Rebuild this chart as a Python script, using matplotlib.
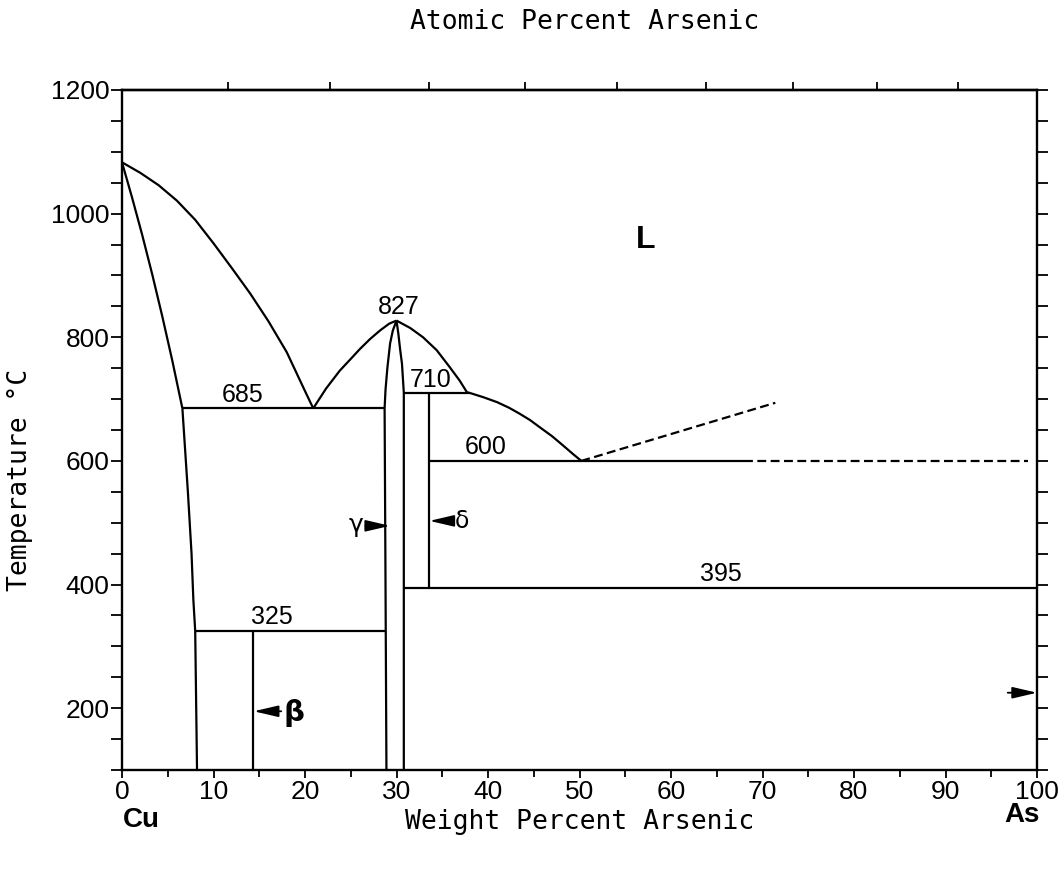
import numpy as np
import matplotlib
matplotlib.use("Agg")
import matplotlib.pyplot as plt
from matplotlib.ticker import MultipleLocator, FixedLocator, NullFormatter

# liquidus / solidus curves (wt% As, temperature C)
liq_cu_wt = [0, 2, 4, 6, 8, 10, 12, 14, 16, 18, 20, 20.9]
liq_cu_t = [1083, 1066, 1046, 1021, 990, 952, 912, 871, 826, 776, 713, 685]
sol_cu_wt = [0, 1.1, 2.2, 3.3, 4.4, 5.5, 6.6]
sol_cu_t = [1083, 1026, 966, 902, 834, 762, 685]
solvus_wt = [6.6, 7.2, 7.6, 7.8, 8.0, 8.2]
solvus_t = [685, 550, 450, 375, 325, 100]
liq_gl_wt = [20.9, 22.3, 23.8, 25.0, 26.0, 27.1, 28.2, 29.2, 30.0]
liq_gl_t = [685, 717, 746, 765, 781, 797, 811, 822, 827]
liq_gr_wt = [30.0, 31.5, 32.9, 34.4, 35.8, 36.9, 37.7, 38.0]
liq_gr_t = [827, 815, 800, 779, 752, 730, 711, 710]
liq_as_wt = [38.0, 39.5, 41.0, 42.3, 43.5, 44.6, 45.7, 47.0, 48.2, 49.3, 50.2]
liq_as_t = [710, 703, 695, 686, 676, 666, 654, 640, 625, 611, 600]
gam_l_wt = [30.0, 29.6, 29.3, 29.0, 28.8, 28.7, 28.8, 28.9]
gam_l_t = [827, 811, 790, 750, 715, 685, 400, 100]
gam_r_wt = [30.0, 30.2, 30.4, 30.6, 30.8, 30.8]
gam_r_t = [827, 806, 780, 757, 710, 100]

# horizontal invariant lines
iso_t = [685, 710, 600, 395, 325]
iso_x0 = [6.6, 30.8, 33.5, 30.8, 8.0]
iso_x1 = [28.7, 38.0, 68.0, 100, 28.8]
# vertical lines (x, t top, t bottom)
vert_x = [33.5, 14.3]
vert_t0 = [710, 325]
vert_t1 = [395, 100]
# dashed parts
dash1_wt = [68.0, 99.0]
dash1_t = [600, 600]
dash2_wt = [50.2, 71.4]
dash2_t = [600, 694]

labels = ["827", "710", "685", "600", "395", "325"]
label_x = [30.2, 33.7, 13.2, 39.7, 65.4, 16.4]
label_t = [829, 712, 688, 603, 398, 328]

M_CU, M_AS = 63.55, 74.92


def wt_to_at(w):
    w = np.clip(np.asarray(w, float), 1e-9, 100 - 1e-9)
    return (w / M_AS) / (w / M_AS + (100 - w) / M_CU) * 100


def at_to_wt(a):
    a = np.clip(np.asarray(a, float), 1e-9, 100 - 1e-9)
    return a * M_AS / (a * M_AS + (100 - a) * M_CU) * 100


fig = plt.figure(figsize=(10.63, 8.72), dpi=100)
ax = fig.add_axes([122 / 1063, 1 - 770 / 872, (1037 - 122) / 1063, (770 - 90) / 872])
lw = 1.6
kw = dict(color="black", lw=lw, solid_capstyle="butt", solid_joinstyle="round")

ax.plot(liq_cu_wt, liq_cu_t, **kw)
ax.plot(sol_cu_wt, sol_cu_t, **kw)
ax.plot(solvus_wt, solvus_t, **kw)
ax.plot(liq_gl_wt, liq_gl_t, **kw)
ax.plot(liq_gr_wt, liq_gr_t, **kw)
ax.plot(liq_as_wt, liq_as_t, **kw)
ax.plot(gam_l_wt, gam_l_t, **kw)
ax.plot(gam_r_wt, gam_r_t, **kw)
ax.hlines(iso_t, iso_x0, iso_x1, colors="black", lw=lw)
ax.vlines(vert_x, vert_t1, vert_t0, colors="black", lw=lw)
ax.plot(dash1_wt, dash1_t, color="black", lw=lw, ls=(0, (4, 2)))
ax.plot(dash2_wt, dash2_t, color="black", lw=lw, ls=(0, (4, 2)))

for s, x, t in zip(labels, label_x, label_t):
    ax.text(x, t, s, ha="center", va="bottom", fontsize=18, family="Liberation Sans")
ax.text(57.2, 957, "L", ha="center", va="center", fontsize=23,
        fontweight="bold", family="Liberation Sans")

# phase markers
arw = dict(arrowstyle="-|>,head_length=1.5,head_width=0.35", color="black",
           lw=1.3, shrinkA=0, shrinkB=0)
ax.annotate("", xy=(29.3, 495), xytext=(26.6, 495), arrowprops=arw)
ax.text(26.4, 497, "γ", ha="right", va="center", fontsize=18, family="DejaVu Sans")
ax.annotate("", xy=(33.6, 503), xytext=(36.3, 503), arrowprops=arw)
ax.text(36.4, 503, "δ", ha="left", va="center", fontsize=17, family="DejaVu Sans")
ax.annotate("", xy=(14.4, 195), xytext=(17.4, 195), arrowprops=arw)
ax.text(17.6, 192, "β", ha="left", va="center", fontsize=21,
        fontweight="bold", family="DejaVu Sans")
ax.annotate("", xy=(100, 225), xytext=(96.8, 225), arrowprops=arw)

ax.set_xlim(0, 100)
ax.set_ylim(100, 1200)
ax.xaxis.set_major_locator(MultipleLocator(10))
ax.xaxis.set_minor_locator(MultipleLocator(5))
ax.yaxis.set_major_locator(MultipleLocator(200))
ax.yaxis.set_minor_locator(MultipleLocator(50))
ax.tick_params(which="both", direction="out", width=1.3, labelsize=19,
               left=True, right=True, top=False, bottom=True,
               labelright=False, pad=1)
ax.tick_params(which="both", axis="y", length=8)
ax.tick_params(which="major", axis="x", length=6)
ax.tick_params(which="minor", axis="x", length=5)
for t in ax.get_xticklabels() + ax.get_yticklabels():
    t.set_family("Liberation Sans")
for sp in ax.spines.values():
    sp.set_linewidth(1.7)

top = ax.secondary_xaxis("top", functions=(wt_to_at, at_to_wt))
top.xaxis.set_major_locator(FixedLocator(list(range(10, 100, 10))))
top.xaxis.set_major_formatter(NullFormatter())
top.tick_params(direction="out", length=6, width=1.3)
top.spines["top"].set_linewidth(1.7)

fig.text(585 / 1063, 1 - 22 / 872, "Atomic Percent Arsenic", ha="center", va="center",
         fontsize=19, family="DejaVu Sans Mono")
fig.text(580 / 1063, 1 - 822 / 872, "Weight Percent Arsenic", ha="center", va="center",
         fontsize=19, family="DejaVu Sans Mono")
fig.text(20 / 1063, 1 - 480 / 872, "Temperature °C", ha="center", va="center",
         rotation=90, fontsize=19, family="DejaVu Sans Mono")
fig.text(141 / 1063, 1 - 820 / 872, "Cu", ha="center", va="center", fontsize=20,
         fontweight="bold", family="Liberation Sans")
fig.text(1022 / 1063, 1 - 815 / 872, "As", ha="center", va="center", fontsize=20,
         fontweight="bold", family="Liberation Sans")

fig.savefig("out.png", dpi=100, facecolor="white")
